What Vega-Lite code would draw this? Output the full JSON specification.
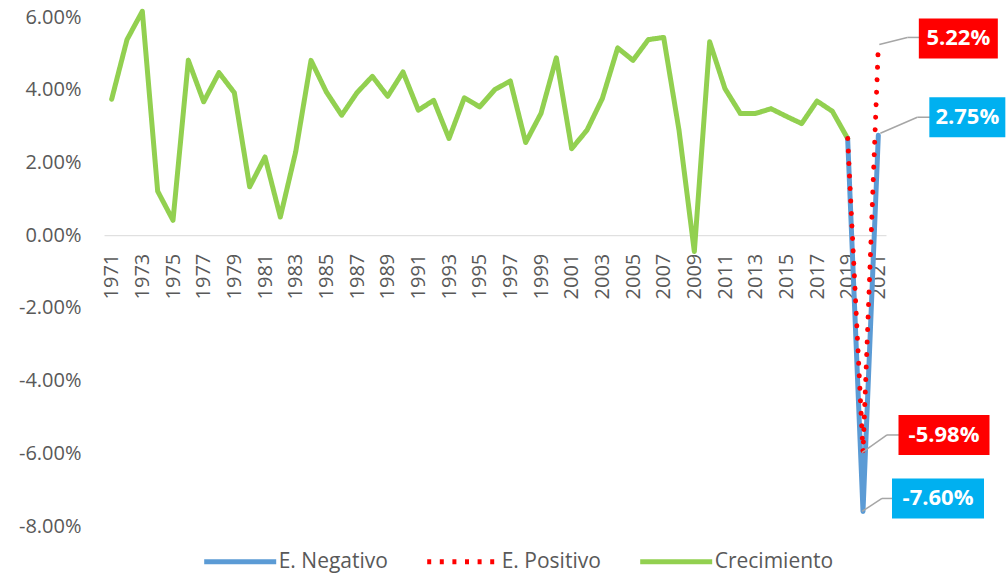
{
  "$schema": "https://vega.github.io/schema/vega-lite/v6.json",
  "width": 782,
  "height": 526,
  "autosize": {"type": "none"},
  "padding": {"left": 104, "top": 0, "right": 121, "bottom": 48},
  "background": "white",
  "config": {
    "view": {"stroke": null},
    "font": "Open Sans",
    "locale": {"number": {"decimal": ".", "thousands": ",", "grouping": [3], "currency": ["$", ""], "minus": "-"}},
    "legend": {
      "orient": "none", "legendX": 97.7, "legendY": 523, "direction": "horizontal", "title": null,
      "symbolType": "stroke", "symbolSize": 5184, "symbolStrokeWidth": 5,
      "labelFontSize": 21, "labelFont": "Open Sans", "labelColor": "#595959", "labelOffset": 0,
      "columnPadding": 28, "padding": 0
    }
  },
  "data": {
    "values": [
      {"year": 1971, "serie": "Crecimiento", "value": 0.0374},
      {"year": 1972, "serie": "Crecimiento", "value": 0.0538},
      {"year": 1973, "serie": "Crecimiento", "value": 0.0616},
      {"year": 1974, "serie": "Crecimiento", "value": 0.0121},
      {"year": 1975, "serie": "Crecimiento", "value": 0.0041},
      {"year": 1976, "serie": "Crecimiento", "value": 0.0481},
      {"year": 1977, "serie": "Crecimiento", "value": 0.0367},
      {"year": 1978, "serie": "Crecimiento", "value": 0.0447},
      {"year": 1979, "serie": "Crecimiento", "value": 0.0392},
      {"year": 1980, "serie": "Crecimiento", "value": 0.0133},
      {"year": 1981, "serie": "Crecimiento", "value": 0.0215},
      {"year": 1982, "serie": "Crecimiento", "value": 0.0050},
      {"year": 1983, "serie": "Crecimiento", "value": 0.0229},
      {"year": 1984, "serie": "Crecimiento", "value": 0.0481},
      {"year": 1985, "serie": "Crecimiento", "value": 0.0394},
      {"year": 1986, "serie": "Crecimiento", "value": 0.0330},
      {"year": 1987, "serie": "Crecimiento", "value": 0.0392},
      {"year": 1988, "serie": "Crecimiento", "value": 0.0437},
      {"year": 1989, "serie": "Crecimiento", "value": 0.0382},
      {"year": 1990, "serie": "Crecimiento", "value": 0.0449},
      {"year": 1991, "serie": "Crecimiento", "value": 0.0344},
      {"year": 1992, "serie": "Crecimiento", "value": 0.0371},
      {"year": 1993, "serie": "Crecimiento", "value": 0.0266},
      {"year": 1994, "serie": "Crecimiento", "value": 0.0378},
      {"year": 1995, "serie": "Crecimiento", "value": 0.0353},
      {"year": 1996, "serie": "Crecimiento", "value": 0.0401},
      {"year": 1997, "serie": "Crecimiento", "value": 0.0424},
      {"year": 1998, "serie": "Crecimiento", "value": 0.0255},
      {"year": 1999, "serie": "Crecimiento", "value": 0.0335},
      {"year": 2000, "serie": "Crecimiento", "value": 0.0488},
      {"year": 2001, "serie": "Crecimiento", "value": 0.0238},
      {"year": 2002, "serie": "Crecimiento", "value": 0.0289},
      {"year": 2003, "serie": "Crecimiento", "value": 0.0376},
      {"year": 2004, "serie": "Crecimiento", "value": 0.0515},
      {"year": 2005, "serie": "Crecimiento", "value": 0.0481},
      {"year": 2006, "serie": "Crecimiento", "value": 0.0538},
      {"year": 2007, "serie": "Crecimiento", "value": 0.0544},
      {"year": 2008, "serie": "Crecimiento", "value": 0.0289},
      {"year": 2009, "serie": "Crecimiento", "value": -0.0045},
      {"year": 2010, "serie": "Crecimiento", "value": 0.0532},
      {"year": 2011, "serie": "Crecimiento", "value": 0.0403},
      {"year": 2012, "serie": "Crecimiento", "value": 0.0335},
      {"year": 2013, "serie": "Crecimiento", "value": 0.0335},
      {"year": 2014, "serie": "Crecimiento", "value": 0.0348},
      {"year": 2015, "serie": "Crecimiento", "value": 0.0327},
      {"year": 2016, "serie": "Crecimiento", "value": 0.0307},
      {"year": 2017, "serie": "Crecimiento", "value": 0.0369},
      {"year": 2018, "serie": "Crecimiento", "value": 0.0341},
      {"year": 2019, "serie": "Crecimiento", "value": 0.0266},
      {"year": 2019, "serie": "E. Negativo", "value": 0.0266},
      {"year": 2020, "serie": "E. Negativo", "value": -0.076},
      {"year": 2021, "serie": "E. Negativo", "value": 0.0275},
      {"year": 2019, "serie": "E. Positivo", "value": 0.0266},
      {"year": 2020, "serie": "E. Positivo", "value": -0.0598},
      {"year": 2021, "serie": "E. Positivo", "value": 0.0522}
    ]
  },
  "encoding": {
    "x": {
      "field": "year",
      "type": "ordinal",
      "scale": {"type": "point", "padding": 0.5},
      "axis": {
        "values": [1971, 1973, 1975, 1977, 1979, 1981, 1983, 1985, 1987, 1989, 1991, 1993, 1995, 1997, 1999, 2001, 2003, 2005, 2007, 2009, 2011, 2013, 2015, 2017, 2019, 2021],
        "labelAngle": -90,
        "orient": "bottom",
        "offset": -290.8,
        "ticks": false,
        "tickSize": 0,
        "labelPadding": 18,
        "domainColor": "#D9D9D9",
        "domainWidth": 1,
        "labelFontSize": 20,
        "labelFont": "Open Sans",
        "labelColor": "#595959",
        "labelOverlap": false,
        "grid": false,
        "title": null
      }
    },
    "y": {
      "field": "value",
      "type": "quantitative",
      "scale": {"domain": [-0.08, 0.0647], "nice": false, "zero": false},
      "axis": {
        "values": [-0.08, -0.06, -0.04, -0.02, 0, 0.02, 0.04, 0.06],
        "format": ".2%",
        "ticks": false,
        "tickSize": 0,
        "domain": false,
        "grid": false,
        "labelPadding": 23,
        "labelFontSize": 20,
        "labelFont": "Open Sans",
        "labelColor": "#595959",
        "title": null
      }
    }
  },
  "layer": [
    {
      "transform": [{"filter": "datum.serie != 'E. Positivo'"}],
      "mark": {"type": "line", "strokeWidth": 5, "strokeCap": "round", "strokeJoin": "round"},
      "encoding": {
        "color": {
          "field": "serie",
          "type": "nominal",
          "scale": {"domain": ["E. Negativo", "E. Positivo", "Crecimiento"], "range": ["#5B9BD5", "#FF0000", "#92D050"]}
        },
        "strokeDash": {
          "field": "serie",
          "type": "nominal",
          "scale": {"domain": ["E. Negativo", "E. Positivo", "Crecimiento"], "range": [[1, 0], [4, 8.6], [1, 0]]}
        }
      }
    },
    {
      "transform": [{"filter": "datum.serie == 'E. Positivo'"}],
      "mark": {"type": "line", "strokeWidth": 5, "strokeCap": "round", "strokeJoin": "round", "strokeDash": [0.1, 12.4]},
      "encoding": {
        "color": {"field": "serie", "type": "nominal"}
      }
    },
    {
      "transform": [{"filter": "datum.serie == 'E. Positivo' && datum.year == 2021"}],
      "layer": [
        {"mark": {"type": "rule", "color": "#A6A6A6", "strokeWidth": 1.5, "xOffset": 1, "yOffset": -1, "x2Offset": 29, "y2Offset": -8},
         "encoding": {"x2": {"field": "year"}, "y2": {"field": "value"}}},
        {"mark": {"type": "rule", "color": "#A6A6A6", "strokeWidth": 1.5, "xOffset": 29, "yOffset": -8, "x2Offset": 41, "y2Offset": -8},
         "encoding": {"x2": {"field": "year"}, "y2": {"field": "value"}}},
        {"mark": {"type": "point", "shape": "M-1,-0.5063H1V0.5063H-1Z", "size": 6241, "filled": true, "color": "#FF0000", "opacity": 1, "strokeWidth": 0, "xOffset": 80, "yOffset": -7}},
        {"mark": {"type": "text", "color": "#FFFFFF", "fontWeight": "bold", "fontSize": 22, "font": "Open Sans", "align": "center", "baseline": "middle", "xOffset": 80, "yOffset": -7},
         "encoding": {"text": {"field": "value", "type": "quantitative", "format": ".2%"}}}
      ]
    },
    {
      "transform": [{"filter": "datum.serie == 'E. Negativo' && datum.year == 2021"}],
      "layer": [
        {"mark": {"type": "rule", "color": "#A6A6A6", "strokeWidth": 1.5, "xOffset": 2, "yOffset": -2, "x2Offset": 39, "y2Offset": -18},
         "encoding": {"x2": {"field": "year"}, "y2": {"field": "value"}}},
        {"mark": {"type": "rule", "color": "#A6A6A6", "strokeWidth": 1.5, "xOffset": 39, "yOffset": -18, "x2Offset": 52, "y2Offset": -18},
         "encoding": {"x2": {"field": "year"}, "y2": {"field": "value"}}},
        {"mark": {"type": "point", "shape": "M-1,-0.5263H1V0.5263H-1Z", "size": 5776, "filled": true, "color": "#00B0F0", "opacity": 1, "strokeWidth": 0, "xOffset": 89, "yOffset": -18}},
        {"mark": {"type": "text", "color": "#FFFFFF", "fontWeight": "bold", "fontSize": 22, "font": "Open Sans", "align": "center", "baseline": "middle", "xOffset": 89, "yOffset": -18},
         "encoding": {"text": {"field": "value", "type": "quantitative", "format": ".2%"}}}
      ]
    },
    {
      "transform": [{"filter": "datum.serie == 'E. Positivo' && datum.year == 2020"}],
      "layer": [
        {"mark": {"type": "rule", "color": "#A6A6A6", "strokeWidth": 1.5, "xOffset": -1, "yOffset": 0, "x2Offset": 24, "y2Offset": -17.6},
         "encoding": {"x2": {"field": "year"}, "y2": {"field": "value"}}},
        {"mark": {"type": "rule", "color": "#A6A6A6", "strokeWidth": 1.5, "xOffset": 24, "yOffset": -17.6, "x2Offset": 36, "y2Offset": -17.6},
         "encoding": {"x2": {"field": "year"}, "y2": {"field": "value"}}},
        {"mark": {"type": "point", "shape": "M-1,-0.4396H1V0.4396H-1Z", "size": 8281, "filled": true, "color": "#FF0000", "opacity": 1, "strokeWidth": 0, "xOffset": 81, "yOffset": -17.6}},
        {"mark": {"type": "text", "color": "#FFFFFF", "fontWeight": "bold", "fontSize": 22, "font": "Open Sans", "align": "center", "baseline": "middle", "xOffset": 81, "yOffset": -17.6},
         "encoding": {"text": {"field": "value", "type": "quantitative", "format": ".2%"}}}
      ]
    },
    {
      "transform": [{"filter": "datum.serie == 'E. Negativo' && datum.year == 2020"}],
      "layer": [
        {"mark": {"type": "rule", "color": "#A6A6A6", "strokeWidth": 1.5, "xOffset": -1, "yOffset": 0, "x2Offset": 19, "y2Offset": -13},
         "encoding": {"x2": {"field": "year"}, "y2": {"field": "value"}}},
        {"mark": {"type": "rule", "color": "#A6A6A6", "strokeWidth": 1.5, "xOffset": 19, "yOffset": -13, "x2Offset": 30, "y2Offset": -13},
         "encoding": {"x2": {"field": "year"}, "y2": {"field": "value"}}},
        {"mark": {"type": "point", "shape": "M-1,-0.4348H1V0.4348H-1Z", "size": 8464, "filled": true, "color": "#00B0F0", "opacity": 1, "strokeWidth": 0, "xOffset": 75, "yOffset": -13}},
        {"mark": {"type": "text", "color": "#FFFFFF", "fontWeight": "bold", "fontSize": 22, "font": "Open Sans", "align": "center", "baseline": "middle", "xOffset": 75, "yOffset": -13},
         "encoding": {"text": {"field": "value", "type": "quantitative", "format": ".2%"}}}
      ]
    }
  ]
}
